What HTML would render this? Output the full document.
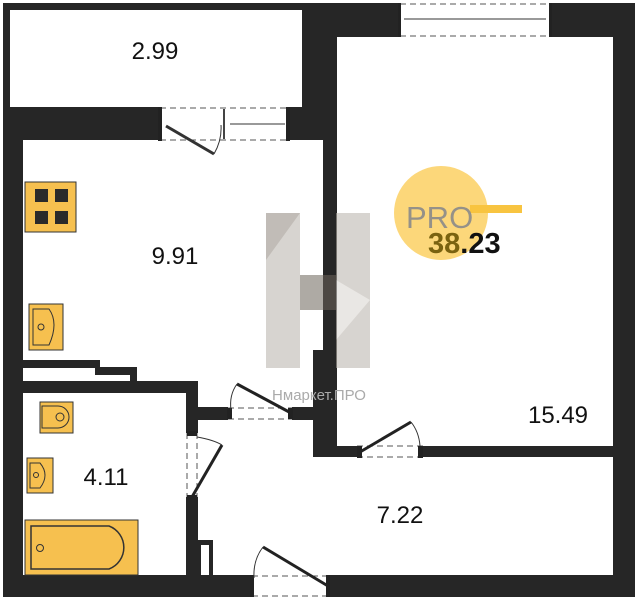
<!DOCTYPE html>
<html><head><meta charset="utf-8"><style>
html,body{margin:0;padding:0;background:#fff;width:638px;height:600px;overflow:hidden}
svg{display:block}
text{font-family:"Liberation Sans",sans-serif}
</style></head><body>
<svg width="638" height="600" viewBox="0 0 638 600" xmlns="http://www.w3.org/2000/svg">
<!-- outer dark mass -->
<rect x="3" y="3" width="632" height="594" fill="#262626"/>
<!-- rooms (white) -->
<rect x="10" y="10" width="292" height="97" fill="#fff"/>
<rect x="337" y="37" width="276" height="409" fill="#fff"/>
<polygon points="23,140 323,140 323,350 313,350 313,407 198,407 198,381 137,381 137,367 100,367 100,360 23,360" fill="#fff"/>
<polygon points="23,368 95,368 95,375 130,375 130,381 23,381" fill="#fff"/>
<rect x="23" y="393" width="163" height="182" fill="#fff"/>
<rect x="198" y="420" width="115" height="40" fill="#fff"/>
<rect x="198" y="457" width="415" height="118" fill="#fff"/>
<rect x="198" y="540" width="15" height="35" fill="#262626"/>
<rect x="201" y="545" width="8" height="30" fill="#fff"/>
<!-- top window -->
<rect x="400" y="3" width="150" height="34" fill="#fff"/>
<g stroke="#555" stroke-width="1" stroke-dasharray="6,4"><line x1="400" y1="4" x2="550" y2="4"/><line x1="400" y1="36" x2="550" y2="36"/></g>
<line x1="404" y1="19" x2="546" y2="19" stroke="#333" stroke-width="1"/>
<rect x="398" y="3" width="3" height="34" fill="#222"/><rect x="549" y="3" width="3" height="34" fill="#222"/>
<!-- balcony door -->
<rect x="160" y="107" width="130" height="33" fill="#fff"/>
<g stroke="#555" stroke-width="1" stroke-dasharray="6,4"><line x1="160" y1="108" x2="290" y2="108"/><line x1="160" y1="140" x2="290" y2="140"/></g>
<rect x="158" y="107" width="4" height="34" fill="#222"/><rect x="286" y="107" width="4" height="34" fill="#222"/>
<rect x="223" y="109" width="2" height="30" fill="#444"/>
<line x1="166" y1="126" x2="214" y2="154" stroke="#333" stroke-width="3"/>
<line x1="230" y1="124" x2="285" y2="124" stroke="#333" stroke-width="1"/>
<path d="M214,154 Q222,140 221,125" fill="none" stroke="#333" stroke-width="1"/>
<!-- kitchen->corridor door -->
<rect x="228" y="407" width="64" height="13" fill="#fff"/>
<g stroke="#555" stroke-dasharray="6,4"><line x1="228" y1="408" x2="292" y2="408"/><line x1="228" y1="419" x2="292" y2="419"/></g>
<rect x="227" y="408" width="5" height="11" fill="#222"/><rect x="288" y="408" width="5" height="11" fill="#222"/>
<line x1="237" y1="384" x2="291" y2="413" stroke="#222" stroke-width="3"/>
<path d="M237,384 Q229,395 231,410" fill="none" stroke="#333"/>
<!-- bathroom door -->
<rect x="186" y="433" width="12" height="64" fill="#fff"/>
<g stroke="#555" stroke-dasharray="6,4"><line x1="187" y1="433" x2="187" y2="497"/><line x1="197" y1="433" x2="197" y2="497"/></g>
<rect x="187" y="431" width="10" height="5" fill="#222"/><rect x="187" y="495" width="10" height="5" fill="#222"/>
<line x1="192" y1="497" x2="222" y2="445" stroke="#222" stroke-width="3"/>
<path d="M197,437 Q214,440 222,445" fill="none" stroke="#333"/>
<!-- room door -->
<rect x="357" y="446" width="66" height="12" fill="#fff"/>
<g stroke="#555" stroke-dasharray="6,4"><line x1="357" y1="446" x2="423" y2="446"/><line x1="357" y1="457" x2="423" y2="457"/></g>
<rect x="357" y="446" width="5" height="12" fill="#222"/><rect x="418" y="446" width="5" height="12" fill="#222"/>
<line x1="360" y1="452" x2="411" y2="422" stroke="#222" stroke-width="3"/>
<path d="M411,422 Q419,432 420,446" fill="none" stroke="#333"/>
<!-- entrance door -->
<rect x="250" y="575" width="80" height="22" fill="#fff"/>
<g stroke="#555" stroke-dasharray="6,4"><line x1="252" y1="576" x2="328" y2="576"/><line x1="252" y1="596" x2="328" y2="596"/></g>
<rect x="250" y="575" width="4" height="22" fill="#222"/><rect x="326" y="575" width="4" height="22" fill="#222"/>
<line x1="263" y1="547" x2="328" y2="586" stroke="#222" stroke-width="3"/>
<path d="M263,547 Q253,560 254,578" fill="none" stroke="#333"/>
<!-- stove -->
<rect x="25" y="182" width="51" height="50" fill="#f6c04f" stroke="#333"/>
<rect x="35" y="189" width="13" height="13" fill="#2a2a2a"/><rect x="55" y="189" width="13" height="13" fill="#2a2a2a"/>
<rect x="35" y="211" width="13" height="13" fill="#2a2a2a"/><rect x="55" y="211" width="13" height="13" fill="#2a2a2a"/>
<!-- kitchen sink -->
<rect x="29" y="304" width="34" height="46" fill="#f6c04f" stroke="#333"/>
<path d="M33,309 h16 q10,14 0,36 h-16 z" fill="none" stroke="#333"/><circle cx="41" cy="327" r="3" fill="none" stroke="#333"/>
<!-- toilet -->
<rect x="40" y="402" width="33" height="31" fill="#f6c04f" stroke="#333"/>
<path d="M42,406 h16 a10,10 0 0 1 0,22 h-16 z" fill="none" stroke="#333"/><circle cx="60" cy="417" r="4" fill="none" stroke="#333"/>
<!-- bath sink -->
<rect x="27" y="458" width="26" height="35" fill="#f6c04f" stroke="#333"/>
<path d="M30,463 h10 q10,12 0,25 h-10 z" fill="none" stroke="#333"/><circle cx="36" cy="475" r="2.5" fill="none" stroke="#333"/>
<!-- bath -->
<rect x="25" y="520" width="113" height="55" fill="#f6c04f" stroke="#333"/>
<path d="M31,526 h78 a23,23 0 0 1 0,43 h-78 z" fill="none" stroke="#333" stroke-width="1.5"/><circle cx="40" cy="548" r="3.5" fill="none" stroke="#333"/>
<!-- watermark logo -->
<g opacity="0.55">
<polygon points="266,213 300,213 300,368 266,368" fill="#b8b2aa"/>
<polygon points="266,213 300,213 266,260" fill="#8f877d"/>
<polygon points="336,213 370,213 370,368 336,368" fill="#b8b2aa"/>
<polygon points="336,280 370,300 336,340" fill="#d8d4ce"/>
<polygon points="300,275 336,275 336,310 300,310" fill="#6d655b"/>
</g>
<text x="319" y="400" font-size="15" fill="#aaa" text-anchor="middle">Нмаркет.ПРО</text>
<!-- PRO badge -->
<circle cx="441" cy="213" r="47" fill="#fcd77a"/>
<rect x="470" y="205" width="52" height="8" fill="#f8c440"/>
<text x="406" y="228" font-size="31" fill="#8a8a8a" opacity="0.9">PRO</text>
<text x="428" y="253" font-size="29" font-weight="bold" fill="#7a6210">38<tspan fill="#111">.23</tspan></text>
<!-- labels -->
<g font-size="24" fill="#111" text-anchor="middle">
<text x="155" y="59">2.99</text>
<text x="175" y="264">9.91</text>
<text x="106" y="485">4.11</text>
<text x="400" y="523">7.22</text>
<text x="558" y="423">15.49</text>
</g>
</svg>
</body></html>
